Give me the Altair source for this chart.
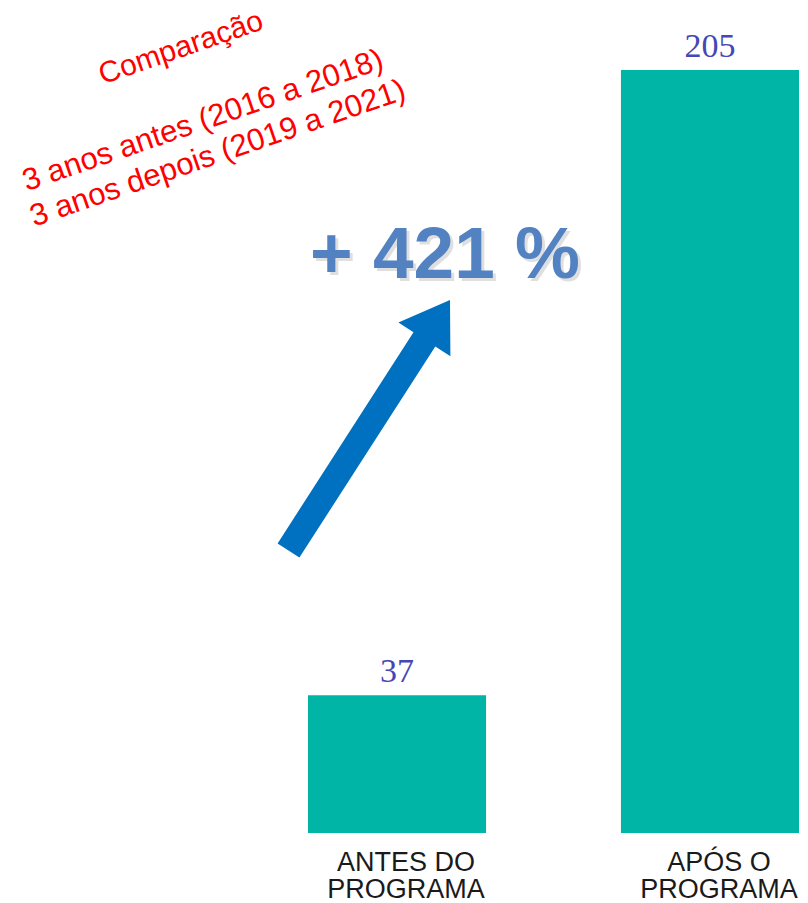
import altair as alt
import pandas as pd

# ---- data ----
categories = ["ANTES DO\nPROGRAMA", "APÓS O\nPROGRAMA"]
values = [37, 205]
value_labels = ["37", "205"]
headline = ["+ 421 %"]
notes = ["Comparação", "3 anos antes (2016 a 2018)", "3 anos depois (2019 a 2021)"]

df = pd.DataFrame({"cat": categories, "value": values, "label": value_labels})

W, H = 792, 895
BAR_COLOR = "#00b5a5"

x_enc = alt.X(
    "cat:N",
    sort=categories,
    axis=None,
    scale=alt.Scale(range=[300, 791], paddingInner=0.431, paddingOuter=0),
)
y_scale = alt.Scale(domain=[0, max(values)], range=[825, 62], nice=False)
y_enc = alt.Y("value:Q", axis=None, scale=y_scale)

base = alt.Chart(df)

bars = base.mark_bar(color=BAR_COLOR).encode(x=x_enc, y=y_enc)

vals = base.mark_text(
    font="Liberation Serif", fontSize=34, color="#4646b4",
    baseline="alphabetic", dy=-13,
).encode(x=x_enc, y=y_enc, text="label:N")

cats = base.mark_text(
    font="Liberation Sans", fontSize=27, lineHeight=27, baseline="top",
    dx=9, dy=17, color="#1a1a1a", lineBreak="\n",
).encode(x=x_enc, y=alt.Y(datum=0, scale=y_scale), text="cat:N")

# headline with soft shadow
hl_df = pd.DataFrame({"t": headline})
hl_shadow = alt.Chart(hl_df).mark_text(
    font="Liberation Sans", fontSize=73, fontWeight="bold", color="#000000",
    opacity=0.12, align="center", baseline="alphabetic", dx=3, dy=3,
).encode(x=alt.value(437), y=alt.value(270), text="t:N")
hl = alt.Chart(hl_df).mark_text(
    font="Liberation Sans", fontSize=73, fontWeight="bold", color="#5282c2",
    align="center", baseline="alphabetic",
).encode(x=alt.value(437), y=alt.value(270), text="t:N")

# arrow (custom symbol path, size=4 -> 1 unit = 1 px)
arrow_path = ("M -86.4 118.4 L 49.5 -92.7 L 34.4 -102.5 L 86 -125 "
              "L 86.4 -68.7 L 71.3 -78.5 L -64.6 132.6 Z")
arrow = alt.Chart(pd.DataFrame({"a": [0]})).mark_point(
    shape=arrow_path, size=4, filled=True, fill="#0070c0", opacity=1, strokeWidth=0,
).encode(x=alt.value(356), y=alt.value(417))

# rotated red notes
note_pos = [(173, 40, 30), (195, 113, 31), (210, 146, 31)]
note_layers = []
for txt, (px, py, fs) in zip(notes, note_pos):
    note_layers.append(
        alt.Chart(pd.DataFrame({"t": [txt]})).mark_text(
            font="Liberation Sans", fontSize=fs, color="#ff0000",
            align="center", baseline="middle", angle=341,
        ).encode(x=alt.value(px), y=alt.value(py), text="t:N")
    )

chart = alt.layer(bars, vals, cats, arrow, hl_shadow, hl, *note_layers).properties(
    width=W, height=H,
    autosize=alt.AutoSizeParams(type="none"),
    padding=0,
).configure_view(stroke=None)

chart.save("out.html", embed_options={"renderer": "svg", "actions": False})
